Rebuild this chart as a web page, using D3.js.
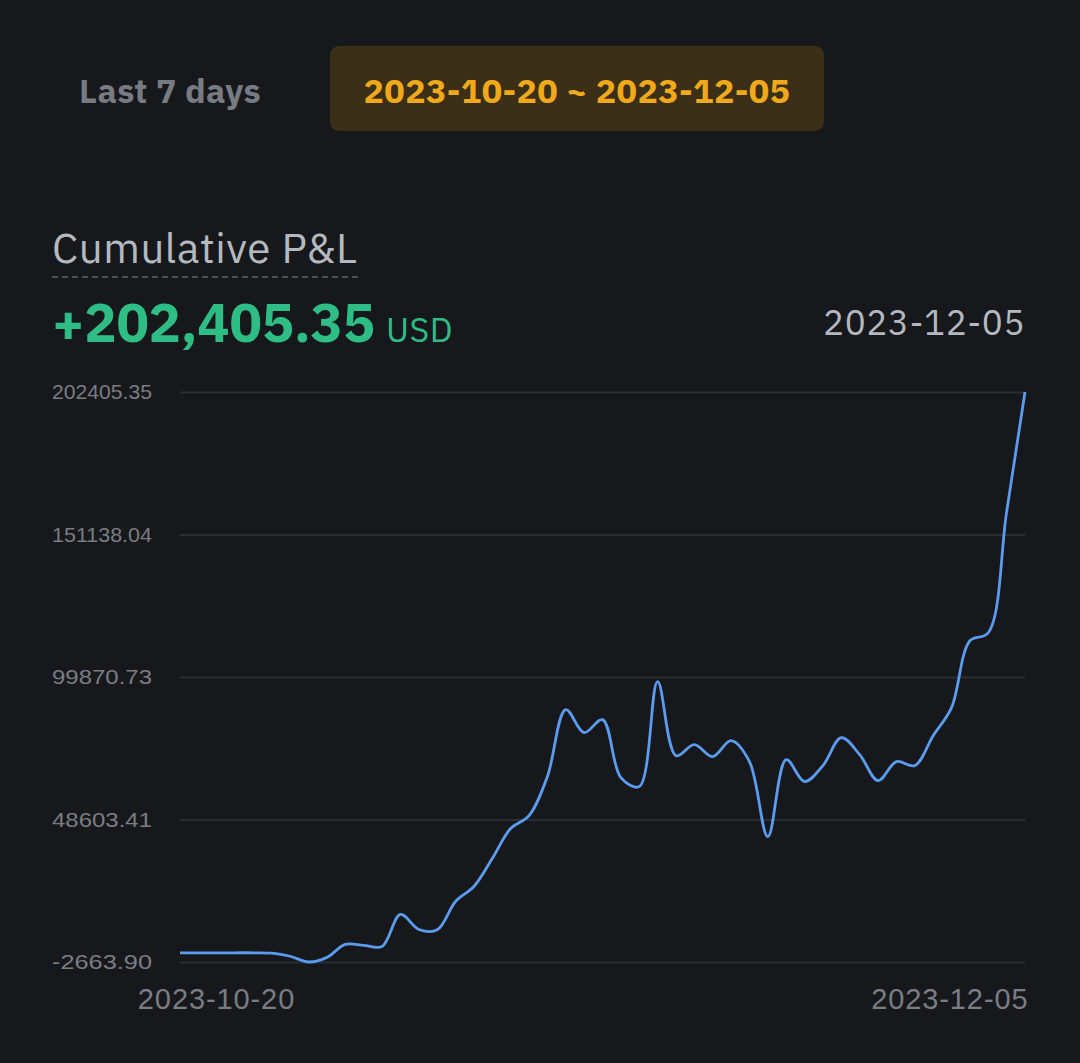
<!DOCTYPE html>
<html>
<head>
<meta charset="utf-8">
<script src="https://cdn.jsdelivr.net/npm/d3@7"></script>
<style>
  html, body { margin: 0; padding: 0; background: #17181c; }
  svg { display: block; font-family: "IBM Plex Sans", Roboto, "Noto Sans", sans-serif; }
</style>
</head>
<body>
<script>
// daily cumulative P&L, 2023-10-20 .. 2023-12-05
var startDate = "2023-10-20",
    endDate = "2023-12-05";
var pnl = [
  650, 650, 650, 650, 650, 500, -600, -2663.90, -1000, 3700,
  3300, 2950, 14440, 9050, 8900, 19100, 24500, 34560, 45350, 50020,
  64040, 88120, 79850, 84520, 63680, 60440, 98180, 71580, 75540, 71220,
  76970, 69430, 42470, 70150, 62240, 67990, 78050, 71940, 62600, 69430,
  67990, 78770, 88840, 112910, 115790, 159280, 202405.35
];
var yTicks = [-2663.90, 48603.41, 99870.73, 151138.04, 202405.35];
var tabs = ["Last 7 days", "2023-10-20 ~ 2023-12-05"];
var total = 202405.35;

var width = 1080, height = 1063;
var margin = {left: 180, right: 55, top: 392, bottom: 101};

var parse = d3.timeParse("%Y-%m-%d");
var data = pnl.map(function(v, i) {
  return {date: d3.timeDay.offset(parse(startDate), i), value: v};
});

var svg = d3.select("body").append("svg")
    .attr("width", width)
    .attr("height", height);

svg.append("rect").attr("width", width).attr("height", height).attr("fill", "#17181c");

// tabs
svg.append("text")
    .attr("x", 170).attr("y", 103)
    .attr("text-anchor", "middle")
    .attr("fill", "#787b82")
    .attr("font-size", 34).attr("font-weight", 700)
    .attr("letter-spacing", 0.3)
    .text(tabs[0]);

svg.append("rect")
    .attr("x", 330).attr("y", 46)
    .attr("width", 494).attr("height", 85)
    .attr("rx", 9)
    .attr("fill", "#3b2f18");
svg.append("text")
    .attr("x", 577).attr("y", 103)
    .attr("text-anchor", "middle")
    .attr("fill", "#f0a91a")
    .attr("font-size", 34).attr("font-weight", 700)
    .attr("letter-spacing", 0.4)
    .text(tabs[1]);

// header
svg.append("text")
    .attr("x", 52).attr("y", 263)
    .attr("fill", "#b4b8bf")
    .attr("font-size", 42)
    .attr("letter-spacing", 0.6)
    .text("Cumulative P&L");
svg.append("line")
    .attr("x1", 52).attr("x2", 358)
    .attr("y1", 277).attr("y2", 277)
    .attr("stroke", "#5c6068").attr("stroke-width", 1.5)
    .attr("stroke-dasharray", "6,4");

var big = svg.append("text")
    .attr("x", 52).attr("y", 342)
    .attr("fill", "#2ebd85");
big.append("tspan")
    .attr("font-size", 54).attr("font-weight", 700)
    .attr("letter-spacing", -0.2)
    .text("+" + d3.format(",.2f")(total));
big.append("tspan")
    .attr("dx", 11)
    .attr("font-size", 34)
    .attr("letter-spacing", 0.5)
    .text("USD");

svg.append("text")
    .attr("x", 1025).attr("y", 335)
    .attr("text-anchor", "end")
    .attr("fill", "#b4b8bf")
    .attr("font-size", 35)
    .attr("letter-spacing", 0.6)
    .text(endDate);

// scales
var x = d3.scaleTime()
    .domain([parse(startDate), parse(endDate)])
    .range([margin.left, width - margin.right]);
var y = d3.scaleLinear()
    .domain([yTicks[0], yTicks[yTicks.length - 1]])
    .range([height - margin.bottom, margin.top]);

var yAxis = d3.axisLeft(y)
    .tickValues(yTicks)
    .tickSize(-(width - margin.right - margin.left))
    .tickFormat(function(d) { return d.toFixed(2); });

var gy = svg.append("g")
    .attr("transform", "translate(" + margin.left + ",0)")
    .call(yAxis);
gy.select(".domain").remove();
gy.selectAll(".tick line")
    .attr("stroke", "#2a2d33")
    .attr("stroke-width", 2);
gy.selectAll(".tick text")
    .attr("x", 52 - margin.left)
    .attr("text-anchor", "start")
    .attr("fill", "#7a7d83")
    .attr("font-size", 21)
    .attr("textLength", 100)
    .attr("lengthAdjust", "spacingAndGlyphs")
    .attr("font-family", "inherit");

var xAxis = d3.axisBottom(x)
    .tickValues([parse(startDate), parse(endDate)])
    .tickSize(0)
    .tickFormat(d3.timeFormat("%Y-%m-%d"));
var gx = svg.append("g")
    .attr("transform", "translate(0," + (height - margin.bottom) + ")")
    .call(xAxis);
gx.select(".domain").remove();
gx.selectAll(".tick text")
    .attr("y", 47)
    .attr("dy", 0)
    .attr("fill", "#7a7d83")
    .attr("font-size", 29)
    .attr("letter-spacing", 0.9)
    .attr("font-family", "inherit")
    .attr("text-anchor", function(d, i) { return i === 0 ? "middle" : "end"; })
    .attr("dx", function(d, i) { return i === 0 ? 36 : 3; });

// line
var line = d3.line()
    .x(function(d) { return x(d.date); })
    .y(function(d) { return y(d.value); })
    .curve(d3.curveCatmullRom);

svg.append("path")
    .datum(data)
    .attr("fill", "none")
    .attr("stroke", "#5b9cf0")
    .attr("stroke-width", 2.8)
    .attr("d", line);
</script>
</body>
</html>
